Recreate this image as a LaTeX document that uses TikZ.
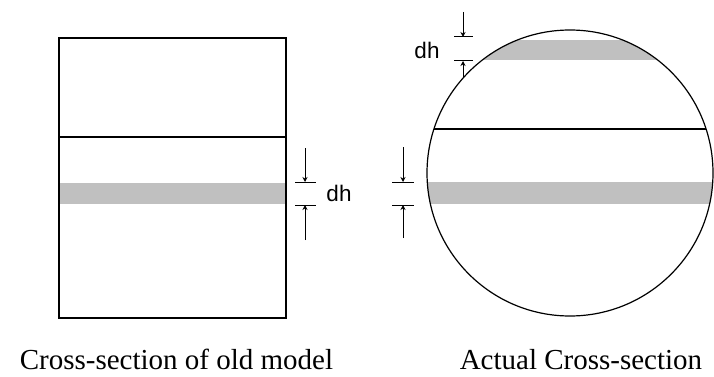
\documentclass[tikz,border=0pt]{standalone}
\usepackage{fontspec}
\setmainfont{Liberation Serif}
\newfontfamily\dhfont{Liberation Sans}
\usetikzlibrary{arrows.meta}
\definecolor{band}{RGB}{192,192,192}
\tikzset{
  outline/.style={draw=black, line width=1.5pt},
  dimarrow/.style={line width=1pt, -{Stealth[length=5pt,width=5pt]}},
  tick/.style={line width=1pt},
  dhlabel/.style={font=\dhfont\fontsize{22.5}{22.5}\selectfont, inner sep=0pt},
  caption/.style={font=\fontsize{29}{31}\selectfont, inner sep=0pt, anchor=base}
}
\begin{document}
\begin{tikzpicture}[x=1pt,y=-1pt]
\useasboundingbox (0,0) rectangle (714,377);
% left rectangle
\fill[band] (59,183) rectangle (286,204);
\node[outline, minimum width=227pt, minimum height=280pt, inner sep=0pt] (rect) at (172.5,178) {};
\draw[line width=1.5pt] (rect.west |- 0,137) coordinate (ml) -- (rect.east |- 0,137) coordinate (mr);
% circle
\coordinate (c) at (570,173);
\begin{scope}
  \clip (c) circle (143);
  \fill[band] (420,40) rectangle (720,60);
  \fill[band] (420,182) rectangle (720,204);
  \draw[line width=1.2pt] (420,129) -- (720,129);
\end{scope}
\node[draw, circle, line width=1.2pt, minimum size=286pt, inner sep=0pt] (circ) at (c) {};
% dimension 1
\coordinate (a1t) at (305,148); \coordinate (a1u) at (305,182);
\coordinate (a1b) at (305,240); \coordinate (a1l) at (305,205);
\draw[dimarrow] (a1t) -- (a1u);
\draw[dimarrow] (a1b) -- (a1l);
\draw[tick] (295,182) -- (316,182);
\draw[tick] (295,205) -- (316,205);
\node[dhlabel] (dh1) at (339,193) {dh};
% dimension 2
\coordinate (a2t) at (403,147); \coordinate (a2u) at (403,182);
\coordinate (a2b) at (403,238); \coordinate (a2l) at (403,205);
\draw[dimarrow] (a2t) -- (a2u);
\draw[dimarrow] (a2b) -- (a2l);
\draw[tick] (392,182) -- (414,182);
\draw[tick] (392,205) -- (414,205);
% dimension 3
\coordinate (a3t) at (463,12); \coordinate (a3u) at (463,37);
\coordinate (a3b) at (463,78); \coordinate (a3l) at (463,61);
\draw[dimarrow] (a3t) -- (a3u);
\draw[dimarrow] (a3b) -- (a3l);
\draw[tick] (454,37) -- (473,37);
\draw[tick] (454,61) -- (473,61);
\node[dhlabel] (dh2) at (427,50) {dh};
% captions
\node[caption] (cap1) at (176.5,369) {Cross-section of old model};
\node[caption] (cap2) at (581,369) {Actual Cross-section};
\end{tikzpicture}
\end{document}
